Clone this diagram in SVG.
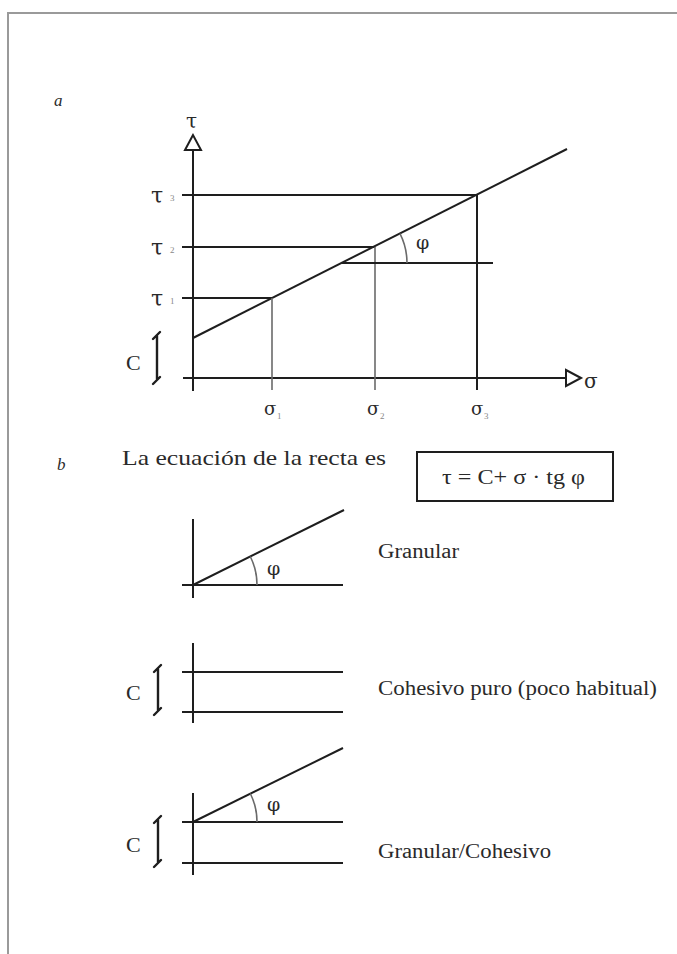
<svg xmlns="http://www.w3.org/2000/svg" width="677" height="954" viewBox="0 0 677 954">
<style>
.ln{stroke:#1e1e1e;stroke-width:2;fill:none}
.lg{stroke:#6a6a6a;stroke-width:1.6;fill:none}
.tx{font-family:"Liberation Serif","Times New Roman",serif;fill:#2a2a2a}
.gk{font-family:"DejaVu Serif","Liberation Serif",serif;fill:#2a2a2a}
.sub{font-family:"Liberation Serif",serif;fill:#888;font-size:9px}
.br{stroke:#1e1e1e;stroke-width:2.4;fill:none;stroke-linecap:round}
</style>
<rect width="677" height="954" fill="#fff"/>
<path d="M8,954 V13 H677" stroke="#9a9a9a" stroke-width="2" fill="none"/>
<text class="tx" x="54" y="106" font-size="17" font-style="italic">a</text>
<text class="tx" x="57" y="470" font-size="17" font-style="italic">b</text>
<g id="chart-a">
  <g id="axes">
    <line class="ln" x1="193" y1="150" x2="193" y2="391"/>
    <polygon points="193,135 185,150 201,150" fill="#fff" stroke="#1e1e1e" stroke-width="2"/>
    <line class="ln" x1="183" y1="378" x2="566" y2="378"/>
    <polygon points="581,378 566,370 566,386" fill="#fff" stroke="#1e1e1e" stroke-width="2"/>
    <text class="gk" x="186" y="128" font-size="20">τ</text>
    <text class="gk" x="584" y="388" font-size="20">σ</text>
  </g>
  <g id="lines">
    <line class="ln" x1="193" y1="338" x2="567" y2="149"/>
    <line class="ln" x1="182" y1="195" x2="477" y2="195"/>
    <line class="ln" x1="182" y1="247" x2="375" y2="247"/>
    <line class="ln" x1="182" y1="298" x2="272" y2="298"/>
    <line class="lg" x1="272" y1="298" x2="272" y2="390"/>
    <line class="lg" x1="375" y1="247" x2="375" y2="390"/>
    <line class="ln" x1="477" y1="195" x2="477" y2="390"/>
    <line class="ln" x1="342" y1="263" x2="493" y2="263"/>
    <path class="lg" d="M407,263 A65,65 0 0 0 400,233.7"/>
    <text class="gk" x="416" y="249" font-size="19">φ</text>
  </g>
  <g id="tau-labels">
    <text class="gk" x="151" y="203" font-size="22">τ</text><text class="sub" x="170" y="201">3</text>
    <text class="gk" x="151" y="255" font-size="22">τ</text><text class="sub" x="170" y="253">2</text>
    <text class="gk" x="151" y="306" font-size="22">τ</text><text class="sub" x="170" y="304">1</text>
  </g>
  <g id="sigma-labels">
    <text class="gk" x="264" y="415" font-size="18">σ</text><text class="sub" x="277" y="419">1</text>
    <text class="gk" x="367" y="415" font-size="18">σ</text><text class="sub" x="380" y="419">2</text>
    <text class="gk" x="471" y="415" font-size="18">σ</text><text class="sub" x="484" y="419">3</text>
  </g>
  <g id="c-a">
    <text class="tx" x="126" y="370" font-size="22">C</text>
    <path class="br" d="M157,336 L157,379 M153,339 L160,332 M153,384 L160,377"/>
  </g>
</g>
<g id="equation">
  <text class="tx" x="122" y="465" font-size="22" textLength="264" lengthAdjust="spacingAndGlyphs">La ecuación de la recta es</text>
  <rect x="417" y="452" width="196" height="49" fill="#fff" stroke="#1e1e1e" stroke-width="2"/>
  <text class="tx" x="442" y="484" font-size="21" textLength="143" lengthAdjust="spacingAndGlyphs">τ = C+ σ  · tg φ</text>
</g>
<g id="granular">
  <line class="ln" x1="193" y1="519" x2="193" y2="598"/>
  <line class="ln" x1="182" y1="585" x2="343" y2="585"/>
  <line class="ln" x1="193" y1="585" x2="344" y2="510"/>
  <path class="lg" d="M257,585 A64,64 0 0 0 250.3,556.5"/>
  <text class="gk" x="267" y="575" font-size="19">φ</text>
  <text class="tx" x="378" y="558" font-size="20" textLength="81" lengthAdjust="spacingAndGlyphs">Granular</text>
</g>
<g id="cohesivo">
  <line class="ln" x1="193" y1="643" x2="193" y2="723"/>
  <line class="ln" x1="182" y1="672" x2="343" y2="672"/>
  <line class="ln" x1="182" y1="712" x2="343" y2="712"/>
  <text class="tx" x="126" y="700" font-size="22">C</text>
  <path class="br" d="M158,669 L158,710 M154,672 L161,665 M154,715 L161,708"/>
  <text class="tx" x="378" y="695" font-size="20" textLength="279" lengthAdjust="spacingAndGlyphs">Cohesivo puro (poco habitual)</text>
</g>
<g id="granular-cohesivo">
  <line class="ln" x1="193" y1="793" x2="193" y2="875"/>
  <line class="ln" x1="182" y1="822" x2="343" y2="822"/>
  <line class="ln" x1="182" y1="863" x2="343" y2="863"/>
  <line class="ln" x1="193" y1="822" x2="343" y2="748"/>
  <path class="lg" d="M257,822 A64,64 0 0 0 250.3,793.5"/>
  <text class="gk" x="267" y="811" font-size="19">φ</text>
  <text class="tx" x="126" y="852" font-size="22">C</text>
  <path class="br" d="M158,820 L158,862 M154,823 L161,816 M154,867 L161,860"/>
  <text class="tx" x="378" y="858" font-size="20" textLength="173" lengthAdjust="spacingAndGlyphs">Granular/Cohesivo</text>
</g>
</svg>
